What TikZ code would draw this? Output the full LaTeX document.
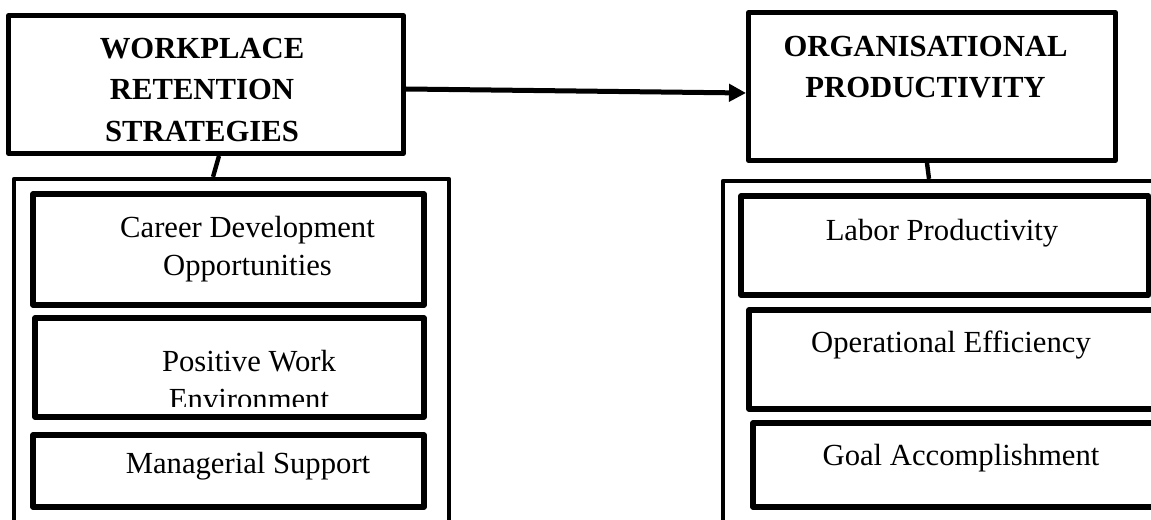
\documentclass[tikz,border=0pt]{standalone}
\usepackage{fontspec}
\setmainfont{Liberation Serif}
\usetikzlibrary{fit,arrows.meta}
\tikzset{
  headbox/.style={draw, line width=4.1pt, inner sep=0pt, line join=round},
  itembox/.style={draw, line width=4.1pt, inner sep=0pt, line join=round},
  groupbox/.style={draw, line width=3.2pt, inner sep=0pt, line join=round},
  headtext/.style={font=\bfseries\fontsize{23}{31.3}\selectfont, align=center, inner sep=0pt},
  itemtext/.style={font=\fontsize{23}{28.5}\selectfont, align=center, inner sep=0pt},
}
\begin{document}
\begin{tikzpicture}[x=0.75pt, y=-0.75pt, >={Triangle[length=12.75pt,width=12.75pt]}]
\clip (0,0) rectangle (1151,520);
% group frames
\node[groupbox, fit={(14,179) (449,540)}] (wrsgroup) {};
\node[groupbox, fit={(723,181) (1170,540)}] (opgroup) {};
% headings
\node[headbox, fit={(8.75,15.75) (403.25,153.25)}] (wrs) {};
\node[headbox, fit={(748.75,12.75) (1115.25,160.25)}] (op) {};
% items
\node[itembox, fit={(33,194) (424,305)}] (cdobox) {};
\node[itembox, fit={(35,318) (424,417)}] (pwebox) {};
\node[itembox, fit={(33,435) (424,507)}] (msbox) {};
\node[itembox, fit={(741,196) (1148.5,295)}] (lpbox) {};
\node[itembox, fit={(749,310) (1170,409)}] (oebox) {};
\node[itembox, fit={(753,423) (1170,507)}] (gabox) {};
% connectors
\draw[->, line width=3.75pt] ([shift={(0,4.5)}]wrs.east) -- ([shift={(0,6.5)}]op.west);
\draw[line width=3.3pt] ([shift={(13,0)}]wrs.south) -- ([shift={(-18.5,0)}]wrsgroup.north);
\draw[line width=3.3pt] ([shift={(-5,0)}]op.south) -- ([shift={(-17.5,0)}]opgroup.north);
% texts
\begin{scope}
\clip (11,18) rectangle (401,141.5);
\node[headtext] (wrstext) at (202,89.8) {WORKPLACE\\RETENTION\\STRATEGIES};
\end{scope}
\node[headtext] (optext) at (925.5,67.2) {ORGANISATIONAL\\PRODUCTIVITY};
\node[itemtext] (cdo) at (247.5,248.7) {Career Development\\Opportunities};
\begin{scope}
\clip (37,320) rectangle (422,406);
\node[itemtext] (pwe) at (249,380.3) {Positive Work\\Environment};
\end{scope}
\node[itemtext, anchor=base] (ms) at (248,473) {Managerial Support};
\node[itemtext, anchor=base] (lp) at (942,240) {Labor Productivity};
\node[itemtext, anchor=base] (oe) at (951,352) {Operational Efficiency};
\node[itemtext, anchor=base] (ga) at (961,465) {Goal Accomplishment};
\end{tikzpicture}
\end{document}
